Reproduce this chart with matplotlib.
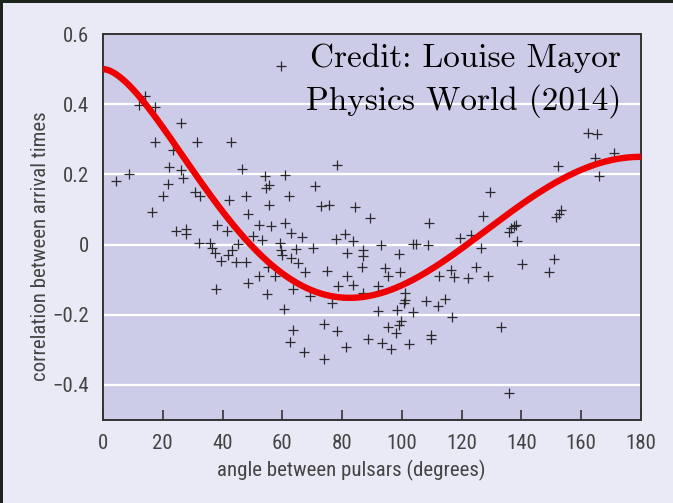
import numpy as np
import matplotlib
matplotlib.use("Agg")
import matplotlib.pyplot as plt
from matplotlib.patches import Rectangle
from matplotlib import font_manager as fm

# ---- data ----
angle_deg = [4.3, 8.6, 12.2, 14.2, 17.4, 17.3, 16.5, 20.0, 21.6, 22.0, 23.5, 26.0, 26.0, 26.9,
             24.4, 27.7, 27.7, 31.3, 30.8, 32.5, 32.0, 35.8, 36.6, 37.4, 38.1, 37.9, 39.5, 41.6,
             42.1, 42.8, 41.8, 43.0, 44.6, 45.0, 46.4, 47.8, 47.8, 48.6, 48.5, 50.1, 52.3, 52.3,
             53.2, 54.2, 54.7, 55.6, 55.5, 55.1, 54.9, 56.1, 57.4, 59.5, 59.1, 59.7, 59.8, 61.0,
             61.0, 60.6, 62.1, 62.9, 63.0, 63.7, 63.5, 62.7, 64.5, 65.3, 66.7, 67.5, 67.4, 69.2,
             70.2, 71.0, 72.8, 75.7, 75.0, 73.9, 74.1, 76.7, 77.8, 78.4, 78.5, 78.3, 81.1, 81.5,
             81.5, 81.3, 83.6, 83.6, 84.2, 87.0, 87.0, 86.8, 87.0, 89.2, 88.7, 92.0, 91.9, 93.1,
             93.3, 94.5, 95.2, 95.4, 96.2, 98.0, 98.4, 99.0, 99.3, 99.0, 99.6, 100.9, 101.2, 100.8,
             102.5, 103.6, 104.8, 103.8, 108.2, 108.6, 109.0, 109.9, 109.9, 112.2, 112.3, 114.5,
             116.4, 116.8, 117.4, 119.5, 122.0, 123.0, 124.9, 126.6, 127.0, 128.9, 129.5, 133.2,
             135.7, 136.6, 137.4, 138.3, 138.5, 136.0, 140.2, 149.3, 150.9, 151.7, 152.5, 153.3,
             152.1, 162.4, 165.2, 164.5, 165.8, 171.0]
correlation = [0.18, 0.20, 0.398, 0.424, 0.391, 0.292, 0.093, 0.138, 0.172, 0.222, 0.27, 0.347, 0.213, 0.19,
               0.04, 0.045, 0.031, 0.292, 0.151, 0.138, 0.003, 0.003, -0.009, -0.023, 0.056, -0.128, -0.046, 0.04,
               0.127, 0.292, -0.031, -0.015, -0.051, 0.002, 0.216, 0.139, -0.051, 0.088, -0.109, 0.023, 0.055, -0.09,
               0.012, 0.196, 0.16, 0.169, 0.114, -0.064, -0.141, 0.054, -0.091, 0.509, 0.004, -0.016, -0.031, 0.199,
               0.062, -0.184, 0.139, 0.033, -0.038, -0.128, -0.243, -0.277, -0.012, -0.052, 0.021, -0.078, -0.306, -0.147,
               -0.009, 0.166, 0.11, 0.114, -0.076, -0.226, -0.327, -0.168, 0.016, 0.227, -0.117, -0.247, 0.03, -0.023,
               -0.09, -0.292, 0.01, -0.116, 0.106, -0.015, -0.032, -0.064, -0.139, 0.076, -0.27, -0.117, -0.19, 0.0,
               -0.281, -0.068, -0.089, -0.235, -0.299, -0.251, -0.187, -0.026, -0.079, -0.228, -0.219, -0.137, -0.159, -0.166,
               -0.284, 0.001, 0.001, -0.192, -0.16, -0.002, 0.062, -0.258, -0.27, -0.176, -0.09, -0.155,
               -0.072, -0.206, -0.092, 0.018, -0.094, 0.026, -0.063, -0.011, 0.08, -0.09, 0.15, -0.234,
               0.037, 0.046, 0.052, 0.056, 0.009, -0.422, -0.056, -0.077, -0.042, 0.078, 0.087, 0.099,
               0.223, 0.319, 0.315, 0.248, 0.196, 0.261]
x_ticks = [0, 20, 40, 60, 80, 100, 120, 140, 160, 180]
y_ticks = [0.6, 0.4, 0.2, 0, -0.2, -0.4]
y_tick_labels = ["0.6", "0.4", "0.2", "0", "\u22120.2", "\u22120.4"]
x_label = "angle between pulsars (degrees)"
y_label = "correlation between arrival times"
credit = "Credit: Louise Mayor\nPhysics World (2014)"

# Hellings-Downs theoretical curve
theta = np.linspace(0, 180, 400)
xx = (1 - np.cos(np.radians(theta))) / 2
safe = np.where(xx > 0, xx, 1.0)
hd = 1.5 * np.where(xx > 0, xx * np.log(safe), 0.0) - xx / 4 + 0.5

# ---- pick a condensed sans font if one exists ----
def pick_font():
    cands = []
    for f in fm.fontManager.ttflist:
        nm = f.name
        st = str(f.stretch)
        if f.style != "normal" or f.weight not in (400, "normal", "regular"):
            continue
        if "Narrow" in nm or "Condensed" in nm or st in ("condensed", "semi-condensed", "600", "700", "750"):
            cands.append((nm, st, f.fname))
    pref = ["Liberation Sans Narrow", "Roboto Condensed", "Open Sans Condensed", "Noto Sans"]
    for p in pref:
        for nm, st, fn in cands:
            if nm == p or nm.startswith(p):
                return fm.FontProperties(fname=fn)
    for nm, st, fn in cands:
        if "Sans" in nm and "Mono" not in nm:
            return fm.FontProperties(fname=fn)
    return None

cond = pick_font()
def fp(size):
    if cond is not None:
        p = cond.copy()
        p.set_size(size)
        return p
    return fm.FontProperties(family=["Liberation Sans", "DejaVu Sans"], size=size * 0.88)

# ---- figure ----
W, H = 673, 503
fig = plt.figure(figsize=(W / 100, H / 100), dpi=100)
fig.patch.set_facecolor("#1c241c")
fig.add_artist(Rectangle((3 / W, 0), 1, 1 - 3 / H, transform=fig.transFigure,
                         facecolor="#e9eaf5", edgecolor="none", zorder=0))

ax = fig.add_axes([103 / W, 1 - 420 / H, (641 - 103) / W, (420 - 34) / H])
ax.set_facecolor("#cccce9")
ax.set_xlim(0, 180)
ax.set_ylim(-0.5, 0.6)

for yv in [0.4, 0.2, 0, -0.2, -0.4]:
    ax.axhline(yv, color="white", lw=1.6, zorder=1)

ax.plot(angle_deg, correlation, linestyle="none", marker="+", ms=6.5, mew=0.9,
        color="#2a2a2a", zorder=2)
ax.plot(theta, hd, color="#ee0000", lw=4.6, solid_capstyle="butt", zorder=3)

for s in ax.spines.values():
    s.set_color("#333333")
    s.set_linewidth(1.4)

ax.set_xticks(x_ticks)
ax.set_xticklabels([str(t) for t in x_ticks], fontproperties=fp(15), color="#444444")
ax.tick_params(axis="x", direction="in", length=7, width=1.2, color="#333333", pad=10)
ax.set_yticks(y_ticks)
ax.set_yticklabels(y_tick_labels, fontproperties=fp(15), color="#444444")
ax.tick_params(axis="y", length=0, pad=10)

ax.set_xlabel(x_label, fontproperties=fp(15), color="#444444")
ax.xaxis.set_label_coords((351 - 103) / 538, -(470 - 420) / 386)
ax.xaxis.label.set_va("center")
ax.set_ylabel(y_label, fontproperties=fp(15), color="#444444")
ax.yaxis.set_label_coords((40 - 103) / 538, (420 - 246) / 386)
ax.yaxis.label.set_va("center")

ax.text(0.9635, 0.975, credit, transform=ax.transAxes, ha="right", va="top",
        fontfamily="cmr10", fontsize=24, color="black", linespacing=1.42, zorder=4)

fig.savefig("out.png", dpi=100, facecolor=fig.get_facecolor())
